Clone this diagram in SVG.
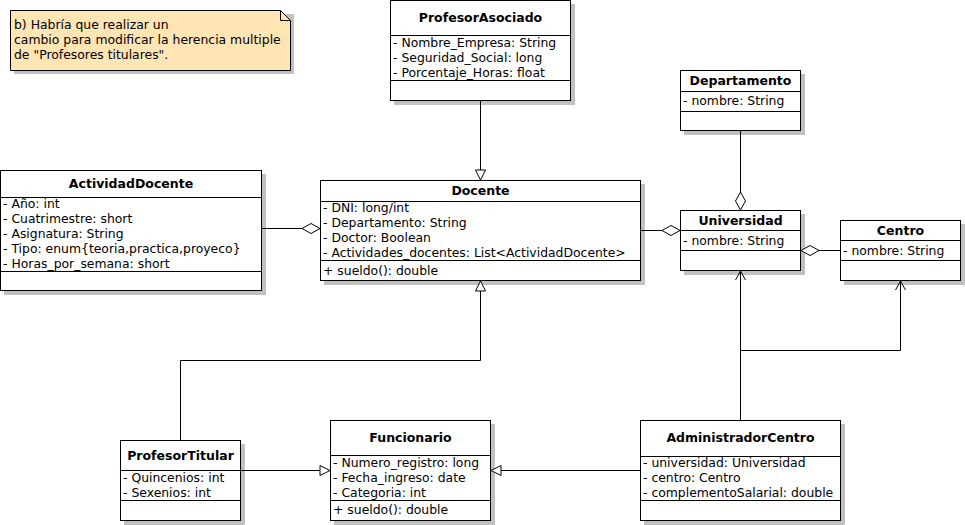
<svg xmlns="http://www.w3.org/2000/svg" width="965" height="525" viewBox="0 0 965 525">
<defs>
<style>
.box{fill:#fff;stroke:#000;stroke-width:1}
.sh{fill:#c0c0c0}
.sep{stroke:#000;stroke-width:1;fill:none}
.t{font-family:"DejaVu Sans",sans-serif;font-size:12.5px;font-weight:bold;text-anchor:middle;fill:#000}
.a{font-family:"DejaVu Sans",sans-serif;font-size:12.4px;fill:#000}
.ln{stroke:#000;stroke-width:1;fill:none}
</style>
<marker id="dia" markerUnits="userSpaceOnUse" markerWidth="20" markerHeight="12" viewBox="-1 -1 20 12" refX="18" refY="5" orient="auto"><path d="M0,5 L9,0 L18,5 L9,10 Z" fill="#fff" stroke="#000"/></marker>
<marker id="tri" markerUnits="userSpaceOnUse" markerWidth="12" markerHeight="12" viewBox="-1 -1 12 12" refX="10" refY="5" orient="auto"><path d="M0,0 L10,5 L0,10 Z" fill="#fff" stroke="#000"/></marker>
<marker id="opn" markerUnits="userSpaceOnUse" markerWidth="12" markerHeight="12" viewBox="-1 -1 12 12" refX="9" refY="5" orient="auto"><path d="M0,0 L9,5 L0,10" fill="none" stroke="#000"/></marker>
</defs>
<rect width="965" height="525" fill="#fff"/>

<g id="note">
<path class="sh" d="M14,14 H294 V74 H14 Z"/>
<path d="M10.5,10.5 H280.5 L290.5,20.5 V70.5 H10.5 Z" fill="#ffe4b4" stroke="#000"/>
<path d="M280.5,10.5 V20.5 H290.5" class="sep"/>
<text class="a" x="14" y="29">b) Habría que realizar un</text>
<text class="a" x="14" y="44">cambio para modificar la herencia multiple</text>
<text class="a" x="14" y="59">de "Profesores titulares".</text>
</g>

<g id="ProfesorAsociado">
<rect class="sh" x="394" y="4" width="181" height="101"/>
<rect class="box" x="390.5" y="0.5" width="180" height="100"/>
<path class="sep" d="M390.5,35.5 H570.5 M390.5,80.5 H570.5"/>
<text class="t" x="480.5" y="22">ProfesorAsociado</text>
<text class="a" x="393" y="47">- Nombre_Empresa: String</text>
<text class="a" x="393" y="62">- Seguridad_Social: long</text>
<text class="a" x="393" y="77">- Porcentaje_Horas: float</text>
</g>

<g id="ActividadDocente">
<rect class="sh" x="4" y="174" width="262" height="121"/>
<rect class="box" x="0.5" y="170.5" width="261" height="120"/>
<path class="sep" d="M0.5,197.5 H261.5 M0.5,271.5 H261.5"/>
<text class="t" x="131" y="188">ActividadDocente</text>
<text class="a" x="3" y="208">- Año: int</text>
<text class="a" x="3" y="223">- Cuatrimestre: short</text>
<text class="a" x="3" y="238">- Asignatura: String</text>
<text class="a" x="3" y="253">- Tipo: enum{teoria,practica,proyeco}</text>
<text class="a" x="3" y="268">- Horas_por_semana: short</text>
</g>

<g id="Docente">
<rect class="sh" x="324" y="184" width="321" height="101"/>
<rect class="box" x="320.5" y="180.5" width="320" height="100"/>
<path class="sep" d="M320.5,201.5 H640.5 M320.5,260.5 H640.5"/>
<text class="t" x="480.5" y="195">Docente</text>
<text class="a" x="323" y="212">- DNI: long/int</text>
<text class="a" x="323" y="227">- Departamento: String</text>
<text class="a" x="323" y="242">- Doctor: Boolean</text>
<text class="a" x="323" y="257">- Actividades_docentes: List&lt;ActividadDocente&gt;</text>
<text class="a" x="323" y="275">+ sueldo(): double</text>
</g>

<g id="Departamento">
<rect class="sh" x="684" y="74" width="121" height="61"/>
<rect class="box" x="680.5" y="70.5" width="120" height="60"/>
<path class="sep" d="M680.5,91.5 H800.5 M680.5,111.5 H800.5"/>
<text class="t" x="740.5" y="85">Departamento</text>
<text class="a" x="683" y="105">- nombre: String</text>
</g>

<g id="Universidad">
<rect class="sh" x="684" y="214" width="121" height="61"/>
<rect class="box" x="680.5" y="210.5" width="120" height="60"/>
<path class="sep" d="M680.5,230.5 H800.5 M680.5,250.5 H800.5"/>
<text class="t" x="740.5" y="225">Universidad</text>
<text class="a" x="683" y="245">- nombre: String</text>
</g>

<g id="Centro">
<rect class="sh" x="844" y="224" width="121" height="61"/>
<rect class="box" x="840.5" y="220.5" width="120" height="60"/>
<path class="sep" d="M840.5,240.5 H960.5 M840.5,260.5 H960.5"/>
<text class="t" x="900.5" y="235">Centro</text>
<text class="a" x="843" y="255">- nombre: String</text>
</g>

<g id="ProfesorTitular">
<rect class="sh" x="124" y="444" width="121" height="81"/>
<rect class="box" x="120.5" y="440.5" width="120" height="80"/>
<path class="sep" d="M120.5,470.5 H240.5 M120.5,500.5 H240.5"/>
<text class="t" x="180.5" y="460">ProfesorTitular</text>
<text class="a" x="123" y="482">- Quincenios: int</text>
<text class="a" x="123" y="497">- Sexenios: int</text>
</g>

<g id="Funcionario">
<rect class="sh" x="334" y="424" width="161" height="101"/>
<rect class="box" x="330.5" y="420.5" width="160" height="100"/>
<path class="sep" d="M330.5,455.5 H490.5 M330.5,500.5 H490.5"/>
<text class="t" x="410.5" y="442">Funcionario</text>
<text class="a" x="333" y="467">- Numero_registro: long</text>
<text class="a" x="333" y="482">- Fecha_ingreso: date</text>
<text class="a" x="333" y="497">- Categoria: int</text>
<text class="a" x="333" y="514">+ sueldo(): double</text>
</g>

<g id="AdministradorCentro">
<rect class="sh" x="644" y="424" width="201" height="101"/>
<rect class="box" x="640.5" y="420.5" width="200" height="100"/>
<path class="sep" d="M640.5,456.5 H840.5 M640.5,500.5 H840.5"/>
<text class="t" x="740.5" y="442">AdministradorCentro</text>
<text class="a" x="643" y="467">- universidad: Universidad</text>
<text class="a" x="643" y="482">- centro: Centro</text>
<text class="a" x="643" y="497">- complementoSalarial: double</text>
</g>

<g id="connectors">
<path class="ln" d="M480.5,101 V180" marker-end="url(#tri)"/>
<path class="ln" d="M262,228.5 H320" marker-end="url(#dia)"/>
<path class="ln" d="M641,230.5 H680" marker-end="url(#dia)"/>
<path class="ln" d="M740.5,131 V210" marker-end="url(#dia)"/>
<path class="ln" d="M840,250.5 H801" marker-end="url(#dia)"/>
<path class="ln" d="M180.5,440 V360.5 H480.5 V281" marker-end="url(#tri)"/>
<path class="ln" d="M241,470.5 H330" marker-end="url(#tri)"/>
<path class="ln" d="M640,470.5 H491" marker-end="url(#tri)"/>
<path class="ln" d="M740.5,420 V271" marker-end="url(#opn)"/>
<path class="ln" d="M740.5,350.5 H900.5 V281" marker-end="url(#opn)"/>
</g>
</svg>
